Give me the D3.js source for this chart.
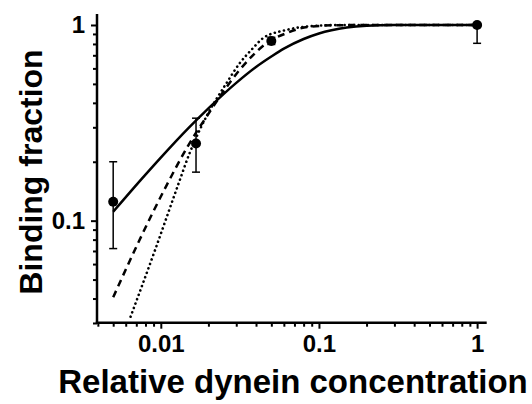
<!DOCTYPE html>
<html>
<head>
<meta charset="utf-8">
<script src="https://cdn.jsdelivr.net/npm/d3@7"></script>
<style>
  html, body { margin: 0; padding: 0; background: #fff; }
  svg { display: block; }
  text { font-family: Arial, "Liberation Sans", Helvetica, sans-serif; font-weight: bold; fill: #000; }
</style>
</head>
<body>
<svg id="chart" width="532" height="404"></svg>
<script>
// Measured binding fractions (mean with lower / upper error)
const pointConc  = [0.005, 0.0167, 0.05, 1];
const pointMean  = [0.125, 0.248, 0.828, 1.0];
const pointLow   = [0.072, 0.177, 0.795, 0.806];
const pointHigh  = [0.200, 0.334, 0.865, 1.0];

// Model curves (solid, dashed, dotted)
const solidConc  = [0.005, 0.0075, 0.01, 0.015, 0.02, 0.03, 0.04, 0.05, 0.06, 0.08, 0.1, 0.12, 0.15, 0.2, 0.3, 0.5, 1];
const solidFrac  = [0.111, 0.162, 0.21, 0.298, 0.375, 0.506, 0.61, 0.69, 0.757, 0.848, 0.905, 0.94, 0.971, 0.991, 0.999, 1, 1];

const dashedConc = [0.005, 0.0073, 0.0109, 0.0149, 0.0204, 0.0255, 0.0315, 0.0382, 0.0464, 0.0621, 0.0871, 0.13, 0.2, 0.4, 1];
const dashedFrac = [0.0406, 0.079, 0.152, 0.242, 0.36, 0.47, 0.589, 0.70, 0.806, 0.907, 0.98, 0.997, 1, 1, 1];

const dottedConc = [0.00644, 0.0092, 0.013, 0.0152, 0.0176, 0.0194, 0.026, 0.0315, 0.0382, 0.0442, 0.0621, 0.0871, 0.13, 0.2, 1];
const dottedFrac = [0.0323, 0.0708, 0.156, 0.221, 0.29, 0.34, 0.504, 0.637, 0.76, 0.855, 0.943, 0.985, 0.999, 1, 1];

// Axis ticks
const xMajor = [0.01, 0.1, 1];
const xMajorLabels = ["0.01", "0.1", "1"];
const xMinor = [0.004, 0.005, 0.006, 0.007, 0.008, 0.009,
                0.02, 0.03, 0.04, 0.05, 0.06, 0.07, 0.08, 0.09,
                0.2, 0.3, 0.4, 0.5, 0.6, 0.7, 0.8, 0.9];
const yMajor = [0.1, 1];
const yMajorLabels = ["0.1", "1"];
const yMinor = [0.03, 0.04, 0.05, 0.06, 0.07, 0.08, 0.09,
                0.2, 0.3, 0.4, 0.5, 0.6, 0.7, 0.8, 0.9];

const xTitle = "Relative dynein concentration";
const yTitle = "Binding fraction";

const svg = d3.select("#chart");
const plotLeft = 97, plotRight = 486.7, plotTop = 14, plotBottom = 322.7;

const x = d3.scaleLog().domain([0.00395, 1.15]).range([plotLeft, plotRight]);
const y = d3.scaleLog().domain([0.0301, 1.138]).range([plotBottom, plotTop]);

// Curves
const line = d3.line().x(d => x(d[0])).y(d => y(d[1])).curve(d3.curveMonotoneX);
const curves = [
  { c: solidConc,  f: solidFrac,  dash: null,      cap: "butt",  w: 2.5 },
  { c: dashedConc, f: dashedFrac, dash: "7,5",     cap: "butt",  w: 2.5 },
  { c: dottedConc, f: dottedFrac, dash: "0.1,4.6", cap: "round", w: 2.6 }
];
curves.forEach(s => {
  svg.append("path")
    .datum(d3.zip(s.c, s.f))
    .attr("d", line)
    .attr("fill", "none")
    .attr("stroke", "#000")
    .attr("stroke-width", s.w)
    .attr("stroke-linecap", s.cap)
    .attr("stroke-dasharray", s.dash);
});

// Axes
const xAxis = d3.axisBottom(x).tickValues(xMajor).tickFormat((d, i) => xMajorLabels[i]).tickSize(6).tickPadding(6);
const xAxisMinor = d3.axisBottom(x).tickValues(xMinor).tickFormat("").tickSize(4);
const yAxis = d3.axisLeft(y).tickValues(yMajor).tickFormat((d, i) => yMajorLabels[i]).tickSize(6).tickPadding(6);
const yAxisMinor = d3.axisLeft(y).tickValues(yMinor).tickFormat("").tickSize(4);

function styleAxis(g) {
  g.select(".domain").remove();
  g.selectAll("line").attr("stroke", "#000").attr("stroke-width", 2);
  g.selectAll("text").style("font-size", "24px").attr("fill", "#000");
}

svg.append("g").attr("transform", `translate(0,${plotBottom})`).call(xAxisMinor).call(styleAxis);
svg.append("g").attr("transform", `translate(0,${plotBottom})`).call(xAxis).call(styleAxis);
svg.append("g").attr("transform", `translate(${plotLeft},0)`).call(yAxisMinor).call(styleAxis);
svg.append("g").attr("transform", `translate(${plotLeft},0)`).call(yAxis).call(styleAxis);

svg.append("line").attr("x1", plotLeft - 1.2).attr("x2", plotRight).attr("y1", plotBottom).attr("y2", plotBottom)
  .attr("stroke", "#000").attr("stroke-width", 2.5);
svg.append("line").attr("x1", plotLeft).attr("x2", plotLeft).attr("y1", plotTop).attr("y2", plotBottom + 1.2)
  .attr("stroke", "#000").attr("stroke-width", 2.5);

// Error bars and points
const pts = pointConc.map((c, i) => ({ c, m: pointMean[i], lo: pointLow[i], hi: pointHigh[i] }));
const eb = svg.append("g").attr("stroke", "#000").attr("stroke-width", 1.5);
pts.forEach(p => {
  eb.append("line").attr("x1", x(p.c)).attr("x2", x(p.c)).attr("y1", y(p.lo)).attr("y2", y(p.hi));
  eb.append("line").attr("x1", x(p.c) - 4).attr("x2", x(p.c) + 4).attr("y1", y(p.lo)).attr("y2", y(p.lo));
  eb.append("line").attr("x1", x(p.c) - 4).attr("x2", x(p.c) + 4).attr("y1", y(p.hi)).attr("y2", y(p.hi));
});
svg.append("g").selectAll("circle").data(pts).join("circle")
  .attr("cx", d => x(d.c)).attr("cy", d => y(d.m)).attr("r", 5).attr("fill", "#000");

// Axis titles
svg.append("text").attr("x", 293).attr("y", 393).attr("text-anchor", "middle")
  .style("font-size", "33px").text(xTitle);
svg.append("text").attr("transform", "translate(42,172) rotate(-90)").attr("text-anchor", "middle")
  .style("font-size", "32px").text(yTitle);
</script>
</body>
</html>
